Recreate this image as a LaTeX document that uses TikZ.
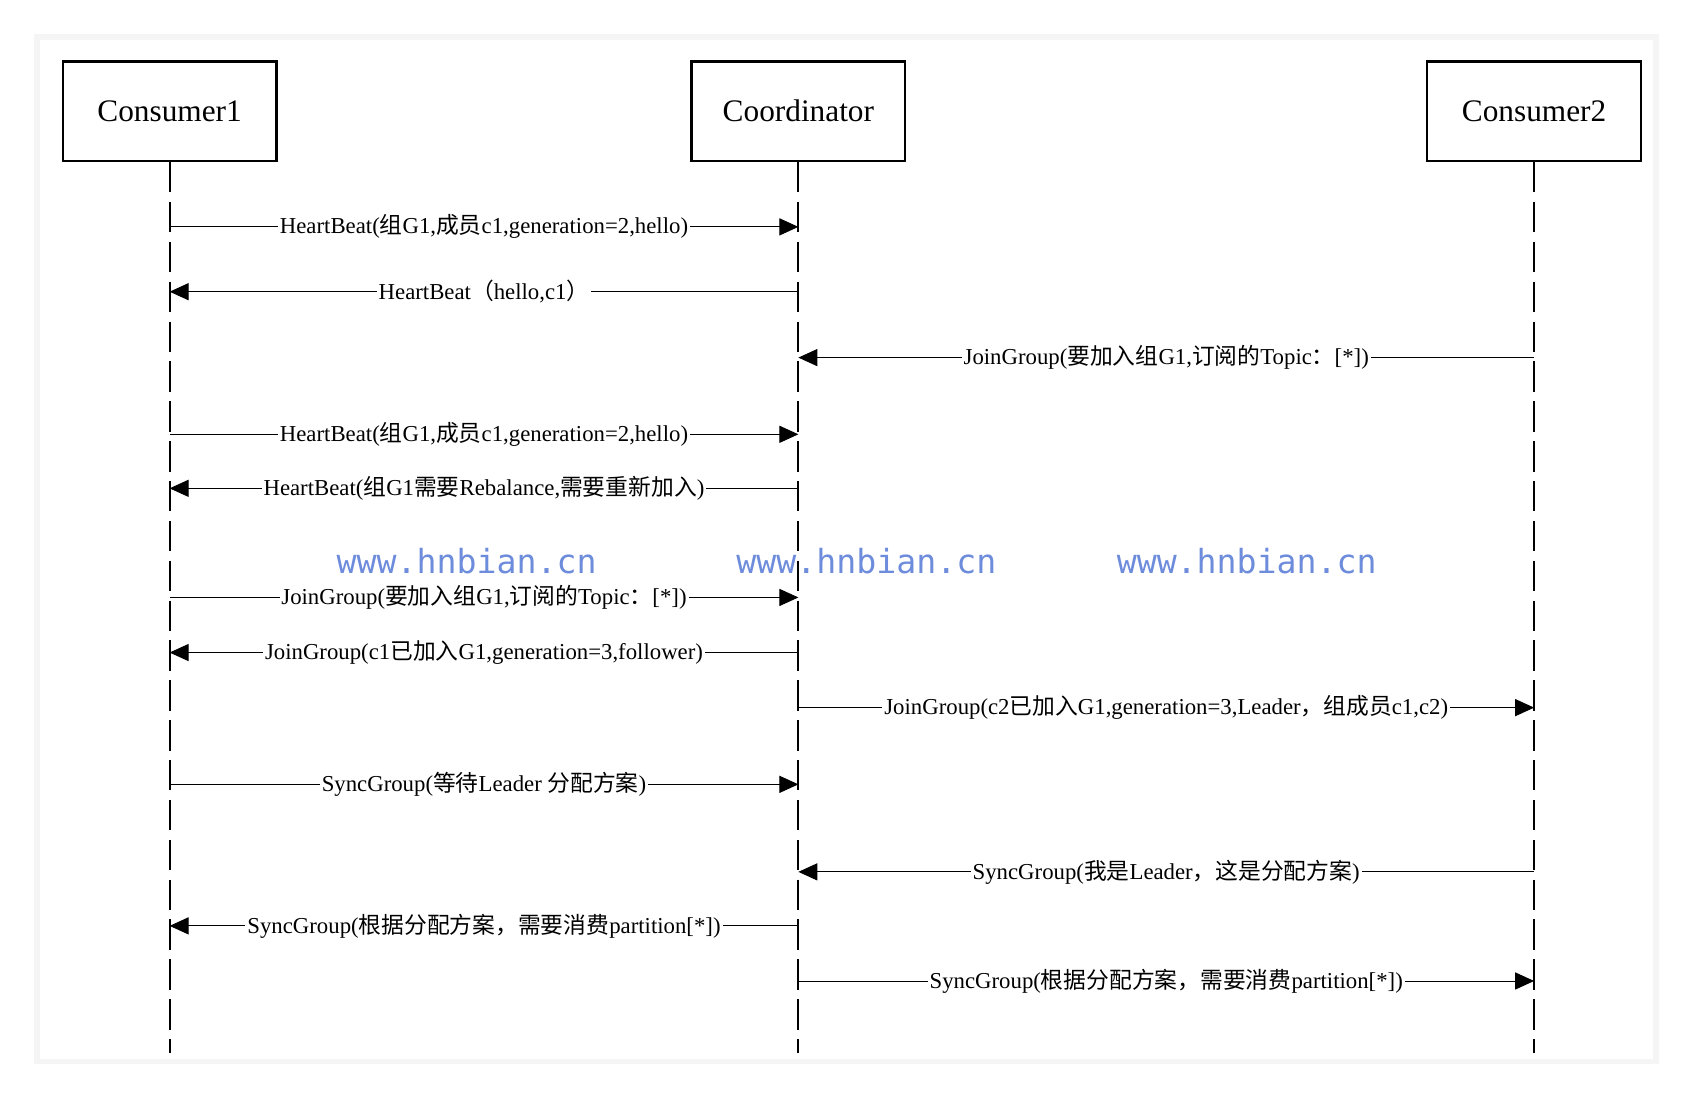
\documentclass[tikz,border=0pt]{standalone}
\usepackage{fontspec}
\setmainfont{Liberation Serif}
\setmonofont{DejaVu Sans Mono}
\newfontfamily\cjk{Noto Sans CJK SC}
\newcommand{\zh}[1]{{\cjk #1}}
\usetikzlibrary{positioning}
\usetikzlibrary{arrows.meta}
\tikzstyle{actor} = [rectangle, minimum width=3.96cm, minimum height=1.84cm, text centered, draw=black, line width=1.2pt, font=\fontsize{16.5}{19}\selectfont]
\tikzstyle{life} = [black, line width=1.1pt, dash pattern=on 16pt off 5pt]
\tikzstyle{msg} = [black, line width=0.5pt, -{Triangle[width=9pt,length=10pt]}]
\tikzstyle{lbl} = [fill=white, inner sep=1pt, font=\fontsize{12}{14}\selectfont]
\tikzstyle{wmark} = [text={rgb,255:red,110;green,140;blue,220}, font=\ttfamily\fontsize{17.5}{20}\selectfont]
\begin{document}
\begin{tikzpicture}[x=0.02cm, y=-0.02cm]
	\useasboundingbox (0,0) rectangle (1568,1018);
	% frame
	\draw [black!4, line width=6pt] (37,37) rectangle (1530,980);
	\fill [white] (37,37) rectangle (1530,980);

	\node (c1) at (157,103) [actor] {Consumer1};
	\node (co) at (739,103) [actor] {Coordinator};
	\node (c2) at (1420,103) [actor] {Consumer2};

	\coordinate (c1end) at (157,975);
	\coordinate (coend) at (739,975);
	\coordinate (c2end) at (1420,975);
	\draw [life] (c1.south)--(c1end);
	\draw [life] (co.south)--(coend);
	\draw [life] (c2.south)--(c2end);

	\node [wmark] (w1) at (432,519) {www.hnbian.cn};
	\node [wmark] (w2) at (802,519) {www.hnbian.cn};
	\node [wmark] (w3) at (1154,519) {www.hnbian.cn};

	\coordinate (a1) at (157,210); \coordinate (b1) at (739,210);
	\draw [msg] (a1)--(b1) node[lbl,midway] {HeartBeat(\zh{组}G1,\zh{成员}c1,generation=2,hello)};
	\coordinate (a2) at (157,270); \coordinate (b2) at (739,270);
	\draw [msg] (b2)--(a2) node[lbl,midway] {HeartBeat\zh{（}hello,c1\zh{）}};
	\coordinate (b3) at (739,331); \coordinate (d3) at (1420,331);
	\draw [msg] (d3)--(b3) node[lbl,midway] {JoinGroup(\zh{要加入组}G1,\zh{订阅的}Topic\zh{：}[*])};
	\coordinate (a4) at (157,402); \coordinate (b4) at (739,402);
	\draw [msg] (a4)--(b4) node[lbl,midway] {HeartBeat(\zh{组}G1,\zh{成员}c1,generation=2,hello)};
	\coordinate (a5) at (157,452); \coordinate (b5) at (739,452);
	\draw [msg] (b5)--(a5) node[lbl,midway] {HeartBeat(\zh{组}G1\zh{需要}Rebalance,\zh{需要重新加入})};
	\coordinate (a6) at (157,553); \coordinate (b6) at (739,553);
	\draw [msg] (a6)--(b6) node[lbl,midway] {JoinGroup(\zh{要加入组}G1,\zh{订阅的}Topic\zh{：}[*])};
	\coordinate (a7) at (157,604); \coordinate (b7) at (739,604);
	\draw [msg] (b7)--(a7) node[lbl,midway] {JoinGroup(c1\zh{已加入}G1,generation=3,follower)};
	\coordinate (b8) at (739,655); \coordinate (d8) at (1420,655);
	\draw [msg] (b8)--(d8) node[lbl,midway] {JoinGroup(c2\zh{已加入}G1,generation=3,Leader\zh{，组成员}c1,c2)};
	\coordinate (a9) at (157,726); \coordinate (b9) at (739,726);
	\draw [msg] (a9)--(b9) node[lbl,midway] {SyncGroup(\zh{等待}Leader \zh{分配方案})};
	\coordinate (b10) at (739,807); \coordinate (d10) at (1420,807);
	\draw [msg] (d10)--(b10) node[lbl,midway] {SyncGroup(\zh{我是}Leader\zh{，这是分配方案})};
	\coordinate (a11) at (157,857); \coordinate (b11) at (739,857);
	\draw [msg] (b11)--(a11) node[lbl,midway] {SyncGroup(\zh{根据分配方案，需要消费}partition[*])};
	\coordinate (b12) at (739,908); \coordinate (d12) at (1420,908);
	\draw [msg] (b12)--(d12) node[lbl,midway] {SyncGroup(\zh{根据分配方案，需要消费}partition[*])};
\end{tikzpicture}
\end{document}
